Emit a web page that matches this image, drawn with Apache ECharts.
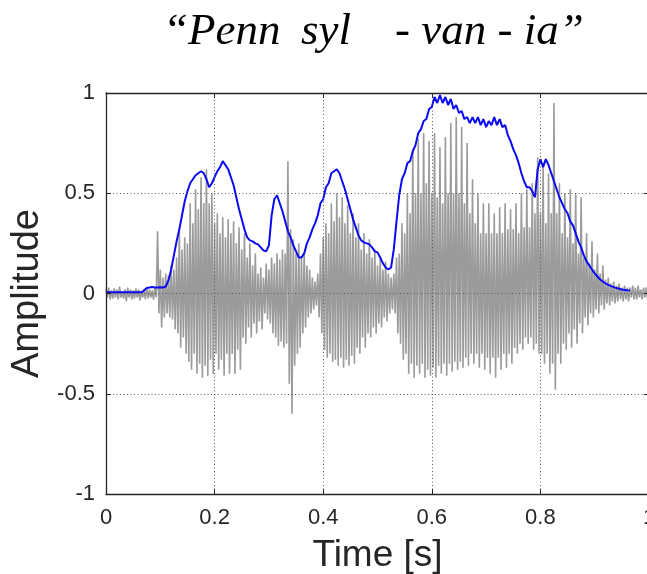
<!DOCTYPE html>
<html>
<head>
<meta charset="utf-8">
<script src="https://cdn.jsdelivr.net/npm/echarts@6/dist/echarts.min.js"></script>
<style>
html,body{margin:0;padding:0;background:#fff;}
#chart{width:647px;height:574px;}
</style>
</head>
<body>
<div id="chart"></div>
<script>
// sample spacing of the arrays below (seconds)
const timeStep = 0.005;

// speech waveform: positive peak and negative trough per sample step
const wavePos = [
  0.02,0.03,0.015,0.025,0.02,0.035,0.01,0.02,0.03,0.02,0.015,0.025,0.02,0.01,0.02,0.03,0.02,0.015,0.03,
  0.31,0.12,0.08,0.1,0.09,0.14,0.12,0.18,0.31,0.22,0.28,0.25,0.45,0.35,0.52,0.42,0.58,0.45,0.62,0.45,0.5,
  0.35,0.4,0.3,0.38,0.28,0.37,0.3,0.36,0.25,0.33,0.22,0.3,0.18,0.25,0.14,0.2,0.1,0.13,0.08,0.15,
  0.12,0.18,0.15,0.2,0.17,0.22,0.2,0.66,0.32,0.27,0.2,0.25,0.18,0.2,0.14,0.12,0.08,0.06,0.1,0.2,
  0.28,0.35,0.3,0.45,0.36,0.5,0.38,0.48,0.35,0.44,0.3,0.4,0.28,0.35,0.22,0.3,0.2,0.27,0.18,0.22,
  0.14,0.18,0.12,0.16,0.1,0.08,0.1,0.18,0.2,0.35,0.3,0.5,0.4,0.72,0.5,0.77,0.5,0.8,0.55,0.76,
  0.5,0.8,0.48,0.73,0.45,0.78,0.5,0.85,0.5,0.88,0.5,0.83,0.45,0.75,0.4,0.57,0.35,0.5,0.3,0.45,
  0.3,0.45,0.3,0.4,0.3,0.43,0.3,0.45,0.32,0.42,0.32,0.45,0.3,0.5,0.33,0.52,0.33,0.55,0.4,0.68,
  0.4,0.65,0.35,0.6,0.4,0.95,0.4,0.55,0.3,0.5,0.28,0.52,0.25,0.5,0.2,0.48,0.18,0.3,0.15,0.26,
  0.12,0.2,0.1,0.14,0.07,0.08,0.05,0.06,0.04,0.05,0.03,0.04,0.03,0.03,0.04,0.03,0.04,0.02,0.03,0.03
];
const waveNeg = [
  -0.02,-0.03,-0.025,-0.02,-0.03,-0.02,-0.025,-0.04,-0.02,-0.03,-0.025,-0.02,-0.035,-0.02,-0.03,-0.025,-0.02,-0.03,-0.02,
  -0.1,-0.17,-0.12,-0.1,-0.12,-0.13,-0.18,-0.2,-0.27,-0.22,-0.3,-0.34,-0.38,-0.3,-0.4,-0.35,-0.42,-0.36,-0.41,-0.33,-0.4,
  -0.3,-0.38,-0.33,-0.41,-0.3,-0.4,-0.3,-0.4,-0.28,-0.38,-0.22,-0.25,-0.17,-0.22,-0.15,-0.2,-0.14,-0.18,-0.1,-0.13,
  -0.15,-0.2,-0.22,-0.26,-0.24,-0.27,-0.25,-0.45,-0.6,-0.36,-0.3,-0.27,-0.2,-0.17,-0.12,-0.1,-0.08,-0.06,-0.12,-0.2,
  -0.28,-0.32,-0.3,-0.34,-0.33,-0.36,-0.32,-0.37,-0.33,-0.36,-0.31,-0.35,-0.27,-0.3,-0.22,-0.27,-0.2,-0.22,-0.17,-0.2,
  -0.15,-0.17,-0.12,-0.14,-0.1,-0.08,-0.1,-0.2,-0.25,-0.33,-0.3,-0.4,-0.35,-0.42,-0.36,-0.4,-0.35,-0.42,-0.38,-0.41,
  -0.37,-0.42,-0.36,-0.4,-0.35,-0.41,-0.35,-0.39,-0.34,-0.38,-0.34,-0.37,-0.32,-0.36,-0.3,-0.35,-0.3,-0.37,-0.3,-0.38,
  -0.32,-0.4,-0.32,-0.42,-0.32,-0.38,-0.3,-0.37,-0.3,-0.35,-0.27,-0.3,-0.25,-0.28,-0.22,-0.25,-0.22,-0.28,-0.25,-0.3,
  -0.3,-0.35,-0.3,-0.4,-0.35,-0.48,-0.3,-0.35,-0.25,-0.28,-0.2,-0.27,-0.18,-0.25,-0.15,-0.2,-0.12,-0.16,-0.1,-0.12,
  -0.08,-0.1,-0.06,-0.08,-0.05,-0.06,-0.04,-0.05,-0.04,-0.03,-0.04,-0.03,-0.04,-0.02,-0.03,-0.03,-0.02,-0.03,-0.02,-0.03
];

// amplitude envelope (blue), one value per sample step
const envelope = [
  0.006,0.006,0.006,0.006,0.006,0.006,0.006,0.006,0.006,0.006,0.006,0.006,0.006,0.006,
  0.015,0.028,0.03,0.032,0.03,0.03,0.031,0.03,0.035,0.065,0.12,0.19,0.26,0.32,0.39,0.46,
  0.51,0.55,0.57,0.59,0.6,0.61,0.6,0.57,0.53,0.55,0.58,0.61,0.63,0.66,0.64,0.62,0.58,0.54,0.48,0.42,
  0.37,0.32,0.28,0.265,0.26,0.25,0.245,0.23,0.215,0.21,0.24,0.39,0.47,0.49,0.45,0.41,0.36,0.31,0.28,0.24,
  0.21,0.18,0.18,0.2,0.25,0.28,0.32,0.35,0.39,0.45,0.47,0.53,0.55,0.6,0.61,0.62,0.6,0.56,0.52,0.47,
  0.42,0.37,0.33,0.29,0.265,0.255,0.25,0.245,0.23,0.21,0.205,0.18,0.15,0.13,0.12,0.13,0.22,0.36,0.49,0.57,
  0.6,0.65,0.66,0.71,0.74,0.8,0.82,0.86,0.87,0.92,0.93,0.98,0.95,0.99,0.95,0.98,0.94,0.97,0.92,0.94,
  0.9,0.91,0.87,0.88,0.85,0.88,0.85,0.88,0.84,0.87,0.83,0.86,0.84,0.88,0.84,0.87,0.83,0.84,0.79,0.76,
  0.72,0.69,0.65,0.6,0.56,0.53,0.53,0.51,0.48,0.62,0.67,0.63,0.67,0.64,0.6,0.56,0.52,0.48,0.45,0.42,
  0.4,0.36,0.34,0.3,0.26,0.23,0.19,0.16,0.14,0.12,0.1,0.085,0.07,0.06,0.05,0.043,0.037,0.032,0.027,0.024,
  0.02,0.018,0.016,0.015
];

const xTickValues = [0, 0.2, 0.4, 0.6, 0.8, 1];
const xTickLabels = ['0', '0.2', '0.4', '0.6', '0.8', '1'];
const yTickValues = [-1, -0.5, 0, 0.5, 1];
const yTickLabels = ['-1', '-0.5', '0', '0.5', '1'];
const titleParts = ['\u201CPenn', 'syl', '- van - ia\u201D'];

// build series data from arrays
const waveData = [];
for (let i = 0; i < wavePos.length; i++) {
  waveData.push([i * timeStep, wavePos[i]]);
  waveData.push([i * timeStep + timeStep / 2, waveNeg[i]]);
}
const envData = envelope.map((v, i) => [i * timeStep, v]);

function lab(values, labels) {
  return function (v) {
    for (let k = 0; k < values.length; k++) if (Math.abs(values[k] - v) < 1e-9) return labels[k];
    return '';
  };
}

const axisColor = '#262626';
const labelFont = { color: axisColor, fontSize: 22, fontFamily: 'Liberation Sans, Arial, sans-serif' };
const gridLine = { show: true, lineStyle: { color: '#5a5a5a', type: [1, 2.5], width: 1 } };
const titleFont = 'italic 45px "Liberation Serif", "Times New Roman", serif';

const chart = echarts.init(document.getElementById('chart'), null, { renderer: 'canvas' });
chart.setOption({
  animation: false,
  backgroundColor: '#ffffff',
  grid: { left: 106, top: 93, width: 543, height: 401, containLabel: false, outerBoundsMode: 'none' },
  graphic: [
    { type: 'text', left: 163, top: 10, style: { text: titleParts[0], font: titleFont, fill: '#000' } },
    { type: 'text', left: 301, top: 10, style: { text: titleParts[1], font: titleFont, fill: '#000' } },
    { type: 'text', left: 395, top: 10, style: { text: titleParts[2], font: titleFont, fill: '#000' } }
  ],
  xAxis: [
    {
      type: 'value', min: 0, max: 1, interval: 0.2, position: 'bottom', z: 3,
      name: 'Time [s]', nameLocation: 'middle', nameGap: 43,
      nameTextStyle: { color: axisColor, fontSize: 37, fontFamily: 'Liberation Sans, Arial, sans-serif' },
      axisLine: { show: true, onZero: false, lineStyle: { color: axisColor, width: 1.3 } },
      axisTick: { show: true, inside: true, length: 5, lineStyle: { color: axisColor } },
      axisLabel: Object.assign({ margin: 13, formatter: lab(xTickValues, xTickLabels) }, labelFont),
      splitLine: gridLine
    },
    {
      type: 'value', min: 0, max: 1, interval: 0.2, position: 'top', z: 3,
      axisLine: { show: true, onZero: false, lineStyle: { color: axisColor, width: 1.3 } },
      axisTick: { show: true, inside: true, length: 5, lineStyle: { color: axisColor } },
      axisLabel: { show: false }, splitLine: { show: false }
    }
  ],
  yAxis: [
    {
      type: 'value', min: -1, max: 1, interval: 0.5, position: 'left', z: 3,
      name: 'Amplitude', nameLocation: 'middle', nameGap: 53,
      nameTextStyle: { color: axisColor, fontSize: 38, fontFamily: 'Liberation Sans, Arial, sans-serif' },
      axisLine: { show: true, onZero: false, lineStyle: { color: axisColor, width: 1.3 } },
      axisTick: { show: true, inside: true, length: 5, lineStyle: { color: axisColor } },
      axisLabel: Object.assign({ margin: 11, formatter: lab(yTickValues, yTickLabels) }, labelFont),
      splitLine: gridLine
    },
    {
      type: 'value', min: -1, max: 1, interval: 0.5, position: 'right', z: 3,
      axisLine: { show: false, onZero: false },
      axisTick: { show: true, inside: true, length: 5, lineStyle: { color: axisColor } },
      axisLabel: { show: false }, splitLine: { show: false }
    }
  ],
  series: [
    {
      type: 'line', xAxisIndex: 0, yAxisIndex: 0, data: waveData, showSymbol: false, symbol: 'none',
      lineStyle: { color: '#9b9b9b', width: 1.6 }, z: 1, silent: true
    },
    {
      type: 'line', xAxisIndex: 0, yAxisIndex: 0, data: envData, showSymbol: false, symbol: 'none',
      lineStyle: { color: '#0a0af5', width: 2 }, z: 2, silent: true
    }
  ]
});
</script>
</body>
</html>
